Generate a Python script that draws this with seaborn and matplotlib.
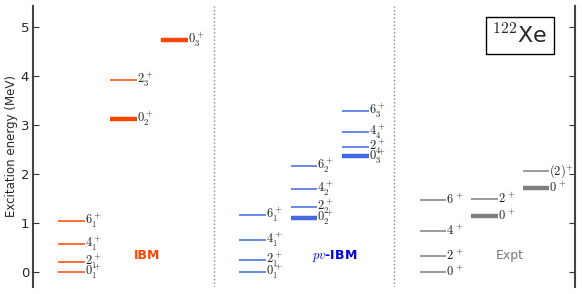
import numpy as np
import pandas as pd
import matplotlib
matplotlib.use('Agg')
import matplotlib.pyplot as plt
import seaborn as sns

# level schemes (MeV)
ibm_col = [0, 0, 0, 0, 1, 1, 2]
ibm_energy = [0.0, 0.20, 0.56, 1.04, 3.13, 3.91, 4.74]
ibm_label = [r'$0_1^+$', r'$2_1^+$', r'$4_1^+$', r'$6_1^+$', r'$0_2^+$', r'$2_3^+$', r'$0_3^+$']
ibm_thick = [False, False, False, False, True, False, True]

pv_col = [0, 0, 0, 0, 1, 1, 1, 1, 2, 2, 2, 2]
pv_energy = [0.0, 0.24, 0.645, 1.155, 1.105, 1.32, 1.69, 2.165, 2.355, 2.545, 2.855, 3.275]
pv_label = [r'$0_1^+$', r'$2_1^+$', r'$4_1^+$', r'$6_1^+$', r'$0_2^+$', r'$2_2^+$',
            r'$4_2^+$', r'$6_2^+$', r'$0_3^+$', r'$2_4^+$', r'$4_4^+$', r'$6_3^+$']
pv_thick = [False, False, False, False, True, False, False, False, True, False, False, False]

expt_col = [0, 0, 0, 0, 1, 1, 2, 2]
expt_energy = [0.0, 0.33, 0.84, 1.465, 1.145, 1.49, 1.715, 2.065]
expt_label = [r'$0^{\,+}$', r'$2^{\,+}$', r'$4^{\,+}$', r'$6^{\,+}$', r'$0^{\,+}$', r'$2^{\,+}$',
              r'$0^{\,+}$', r'$(2)^{+}$']
expt_thick = [False, False, False, False, True, False, True, False]

models = ['IBM', 'pv-IBM', 'Expt']
colors = ['#ff4500', '#4169e1', '#7f7f7f']
text_colors = ['#ff4500', '#0000dd', '#777777']

frames = []
for i, (c, e, l, t) in enumerate([(ibm_col, ibm_energy, ibm_label, ibm_thick),
                                  (pv_col, pv_energy, pv_label, pv_thick),
                                  (expt_col, expt_energy, expt_label, expt_thick)]):
    frames.append(pd.DataFrame({'model': models[i], 'col': c, 'energy': e,
                                'label': l, 'thick': t}))
df = pd.concat(frames, ignore_index=True)

sns.set_style('ticks')
plt.rcParams['mathtext.fontset'] = 'cm'

fig = plt.figure(figsize=(5.82, 2.94), dpi=100)
ax = fig.add_axes([0.057, 0.024, 0.931, 0.956])

col_start = [0.14, 0.425, 0.71]
col_width = 0.148

for i, m in enumerate(models):
    sub = df[df['model'] == m]
    for _, r in sub.iterrows():
        x0 = i + col_start[r['col']]
        x1 = x0 + col_width
        ax.hlines(r['energy'], x0, x1, color=colors[i], lw=3.2 if r['thick'] else 1.1)
        ax.text(x1, r['energy'], r['label'], ha='left', va='center', fontsize=9,
                color='#222222')

# model names
ax.text(0.63, 0.33, 'IBM', color=text_colors[0], fontsize=9, fontweight='bold',
        ha='center', va='center')
ax.text(1.67, 0.33, r'$pv$-IBM', color=text_colors[1], fontsize=9, fontweight='bold',
        ha='center', va='center')
ax.text(2.64, 0.33, 'Expt', color=text_colors[2], fontsize=9, ha='center', va='center')

ax.text(2.695, 4.82, r'$^{122}$Xe', fontsize=16, ha='center', va='center',
        bbox=dict(boxstyle='square,pad=0.3', fc='white', ec='black', lw=1))

for xd in [1, 2]:
    ax.axvline(xd, color='#888888', ls=':', lw=1)

ax.set_xlim(0, 3)
ax.set_ylim(-0.31, 5.43)
ax.set_xticks([])
ax.set_yticks(range(0, 6))
ax.set_ylabel('Excitation energy (MeV)', fontsize=8.5)
ax.yaxis.set_label_coords(-0.028, 0.5)
ax.tick_params(axis='y', direction='in', right=True, left=True, labelsize=9.5, length=4,
               color='#333333', pad=3)
for s in ['top', 'bottom']:
    ax.spines[s].set_visible(False)
for s in ['left', 'right']:
    ax.spines[s].set_color('#444444')
    ax.spines[s].set_linewidth(1.5)

fig.savefig('out.png', dpi=100)
